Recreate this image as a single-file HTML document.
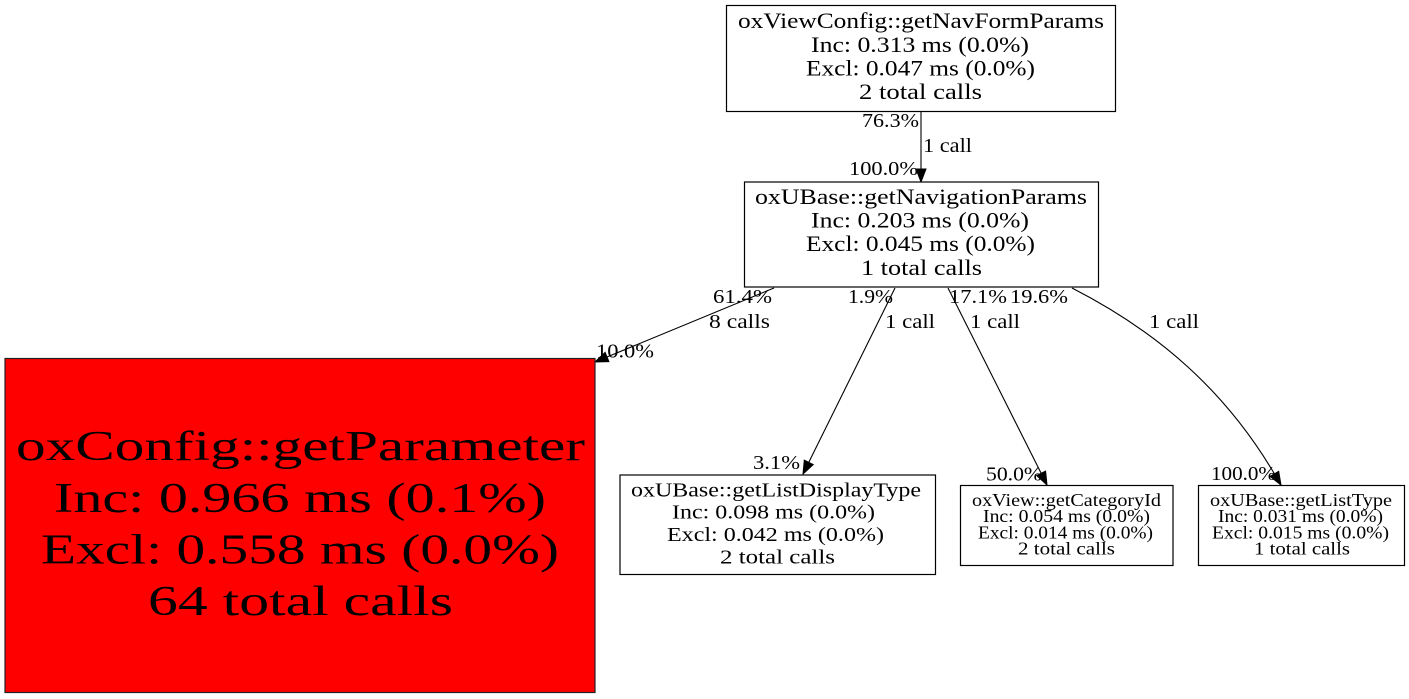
<!DOCTYPE html>
<html>
<head>
<meta charset="utf-8">
<style>
  html,body{margin:0;padding:0;background:#fff;}
  svg{display:block;}
  text{font-family:"Liberation Serif","DejaVu Serif",serif;fill:#000;}
</style>
</head>
<body>
<svg width="1409" height="699" viewBox="0 0 1409 699" xmlns="http://www.w3.org/2000/svg">
  <rect x="0" y="0" width="1409" height="699" fill="#fff"/>

  <!-- Edges -->
  <g stroke="#000" stroke-width="1.1" fill="none">
    <line x1="921" y1="112" x2="921" y2="169"/>
    <line x1="774" y1="288" x2="607" y2="357"/>
    <line x1="895" y1="288" x2="808.8" y2="462.3"/>
    <line x1="948" y1="288" x2="1041.2" y2="473.4"/>
    <path d="M1072,288 C1160,333 1226,392 1274.4,473.8"/>
  </g>
  <g fill="#000" stroke="#000" stroke-width="1">
    <polygon points="916,169 926,169 921,182"/>
    <polygon points="608.9,361.6 605.1,352.4 595,362"/>
    <polygon points="813.2,464.6 804.3,460.1 803,474"/>
    <polygon points="1045.6,471.1 1036.7,475.6 1047,485"/>
    <polygon points="1278.7,471.3 1270.1,476.4 1281,485"/>
  </g>

  <!-- Node 1 -->
  <rect x="726.5" y="5.5" width="389" height="106" fill="#fff" stroke="#000" stroke-width="1.2"/>
  <g font-size="22">
    <text x="738" y="28" textLength="366" lengthAdjust="spacingAndGlyphs">oxViewConfig::getNavFormParams</text>
    <text x="811" y="51.8" textLength="218" lengthAdjust="spacingAndGlyphs">Inc: 0.313 ms (0.0%)</text>
    <text x="806" y="75.5" textLength="229" lengthAdjust="spacingAndGlyphs">Excl: 0.047 ms (0.0%)</text>
    <text x="859" y="99.2" textLength="123" lengthAdjust="spacingAndGlyphs">2 total calls</text>
  </g>

  <!-- Node 2 -->
  <rect x="744.5" y="182" width="354" height="105" fill="#fff" stroke="#000" stroke-width="1.2"/>
  <g font-size="22">
    <text x="755" y="203.8" textLength="332" lengthAdjust="spacingAndGlyphs">oxUBase::getNavigationParams</text>
    <text x="811" y="227.5" textLength="218" lengthAdjust="spacingAndGlyphs">Inc: 0.203 ms (0.0%)</text>
    <text x="806" y="251.2" textLength="229" lengthAdjust="spacingAndGlyphs">Excl: 0.045 ms (0.0%)</text>
    <text x="861" y="275" textLength="121" lengthAdjust="spacingAndGlyphs">1 total calls</text>
  </g>

  <!-- Red node -->
  <rect x="5" y="358.5" width="590" height="334" fill="#ff0000" stroke="#222" stroke-width="1.2"/>
  <g font-size="42">
    <text x="16" y="460" textLength="569" lengthAdjust="spacingAndGlyphs">oxConfig::getParameter</text>
    <text x="54" y="512" textLength="492" lengthAdjust="spacingAndGlyphs">Inc: 0.966 ms (0.1%)</text>
    <text x="41" y="563.5" textLength="518" lengthAdjust="spacingAndGlyphs">Excl: 0.558 ms (0.0%)</text>
    <text x="148" y="615" textLength="305" lengthAdjust="spacingAndGlyphs">64 total calls</text>
  </g>

  <!-- Node 4 -->
  <rect x="620" y="475" width="315.5" height="99.5" fill="#fff" stroke="#000" stroke-width="1.2"/>
  <g font-size="20.5">
    <text x="631" y="496.7" textLength="290" lengthAdjust="spacingAndGlyphs">oxUBase::getListDisplayType</text>
    <text x="672" y="518.7" textLength="203" lengthAdjust="spacingAndGlyphs">Inc: 0.098 ms (0.0%)</text>
    <text x="667" y="541" textLength="217" lengthAdjust="spacingAndGlyphs">Excl: 0.042 ms (0.0%)</text>
    <text x="720" y="563.3" textLength="115" lengthAdjust="spacingAndGlyphs">2 total calls</text>
  </g>

  <!-- Node 5 -->
  <rect x="960.5" y="485.5" width="212.5" height="80" fill="#fff" stroke="#000" stroke-width="1.2"/>
  <g font-size="17.5">
    <text x="972" y="506" textLength="189" lengthAdjust="spacingAndGlyphs">oxView::getCategoryId</text>
    <text x="983" y="522" textLength="167" lengthAdjust="spacingAndGlyphs">Inc: 0.054 ms (0.0%)</text>
    <text x="978" y="538.5" textLength="175" lengthAdjust="spacingAndGlyphs">Excl: 0.014 ms (0.0%)</text>
    <text x="1018" y="554.5" textLength="97" lengthAdjust="spacingAndGlyphs">2 total calls</text>
  </g>

  <!-- Node 6 -->
  <rect x="1198.5" y="485.5" width="206" height="80" fill="#fff" stroke="#000" stroke-width="1.2"/>
  <g font-size="17.5">
    <text x="1210" y="506" textLength="182" lengthAdjust="spacingAndGlyphs">oxUBase::getListType</text>
    <text x="1218" y="522" textLength="165" lengthAdjust="spacingAndGlyphs">Inc: 0.031 ms (0.0%)</text>
    <text x="1212" y="538.5" textLength="177" lengthAdjust="spacingAndGlyphs">Excl: 0.015 ms (0.0%)</text>
    <text x="1254" y="554.5" textLength="96" lengthAdjust="spacingAndGlyphs">1 total calls</text>
  </g>

  <!-- Edge labels -->
  <g font-size="20">
    <text x="862" y="127" textLength="57" lengthAdjust="spacingAndGlyphs">76.3%</text>
    <text x="923" y="152" textLength="49" lengthAdjust="spacingAndGlyphs">1 call</text>
    <text x="849" y="175" textLength="69" lengthAdjust="spacingAndGlyphs">100.0%</text>

    <text x="713" y="303" textLength="59" lengthAdjust="spacingAndGlyphs">61.4%</text>
    <text x="709" y="328" textLength="61" lengthAdjust="spacingAndGlyphs">8 calls</text>
    <text x="596" y="357.3" textLength="58" lengthAdjust="spacingAndGlyphs">10.0%</text>

    <text x="848" y="303" textLength="45" lengthAdjust="spacingAndGlyphs">1.9%</text>
    <text x="885" y="328" textLength="50" lengthAdjust="spacingAndGlyphs">1 call</text>
    <text x="753" y="469" textLength="47" lengthAdjust="spacingAndGlyphs">3.1%</text>

    <text x="949" y="303" textLength="58" lengthAdjust="spacingAndGlyphs">17.1%</text>
    <text x="970" y="328" textLength="50" lengthAdjust="spacingAndGlyphs">1 call</text>
    <text x="986" y="480.5" textLength="56" lengthAdjust="spacingAndGlyphs">50.0%</text>

    <text x="1010" y="303" textLength="58" lengthAdjust="spacingAndGlyphs">19.6%</text>
    <text x="1149" y="328" textLength="50" lengthAdjust="spacingAndGlyphs">1 call</text>
    <text x="1211" y="480" textLength="65" lengthAdjust="spacingAndGlyphs">100.0%</text>
  </g>
</svg>
</body>
</html>
